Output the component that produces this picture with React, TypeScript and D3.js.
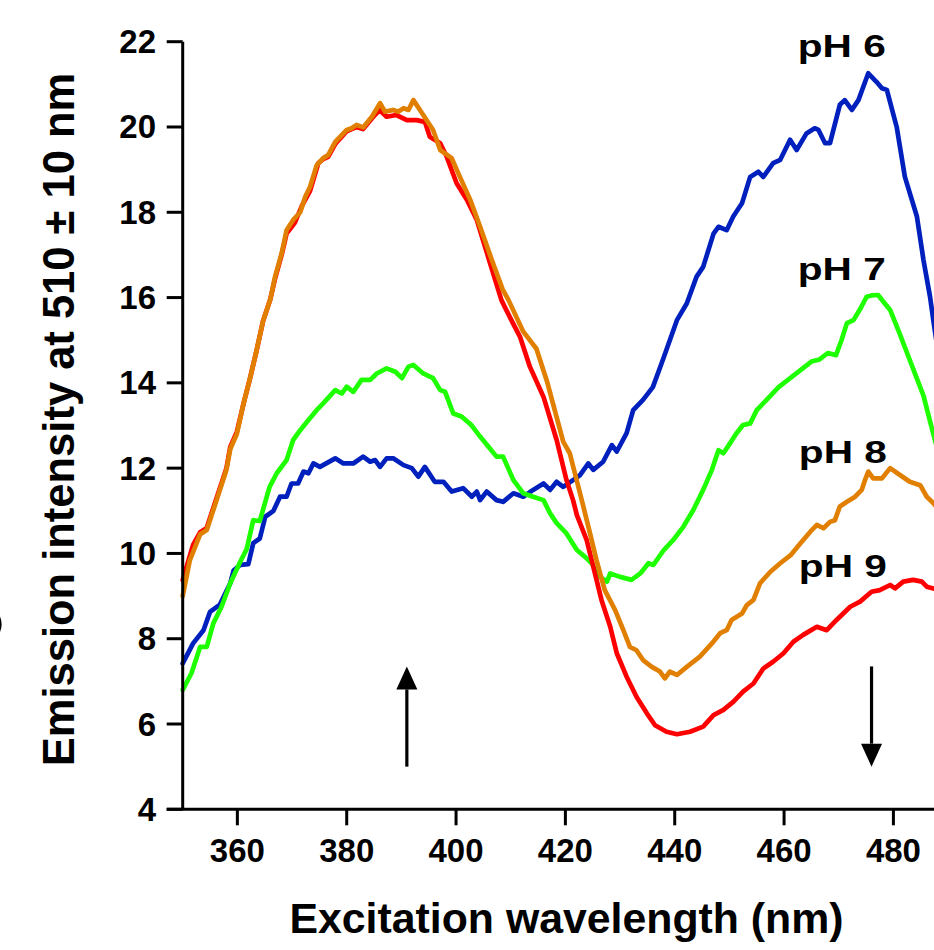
import React from "react";
import * as d3 from "d3";

// ---- data ----
const xTicks = [360, 380, 400, 420, 440, 460, 480];
const yTicks = [4, 6, 8, 10, 12, 14, 16, 18, 20, 22];
const seriesLabels = ["pH 6", "pH 7", "pH 8", "pH 9"];

const ph6: [number, number][] = [
  [350, 7.42], [351.9, 7.89], [353.8, 8.2], [355.0, 8.63], [356.8, 8.8], [358.7, 9.3], [359.3, 9.6],
  [360.5, 9.73], [362.0, 9.75], [362.9, 10.24], [364.1, 10.35], [365.1, 10.86], [366.6, 11.0],
  [367.8, 11.33], [369.0, 11.33], [369.9, 11.64], [371.1, 11.64], [372.1, 11.92], [373.0, 11.88],
  [373.9, 12.11], [375.1, 12.03], [377.9, 12.23], [379.4, 12.11], [381.2, 12.11], [383.0, 12.27],
  [384.3, 12.15], [385.2, 12.19], [386.1, 12.03], [387.3, 12.23], [388.5, 12.23], [390.4, 12.07],
  [391.9, 12.0], [393.1, 11.8], [394.3, 12.03], [396.1, 11.68], [397.7, 11.68], [399.2, 11.45],
  [401.3, 11.53], [402.9, 11.33], [403.8, 11.45], [404.4, 11.25], [405.6, 11.45], [407.4, 11.25],
  [408.6, 11.21], [410.5, 11.41], [412.3, 11.33], [414.1, 11.49], [416.0, 11.64], [417.2, 11.49],
  [418.4, 11.68], [419.6, 11.56], [421.4, 11.72], [422.7, 11.84], [424.2, 12.11], [425.1, 11.96],
  [426.9, 12.15], [428.5, 12.54], [429.4, 12.39], [431.2, 12.82], [432.4, 13.36], [434.2, 13.6],
  [436.0, 13.9], [438.0, 14.6], [440.4, 15.47], [442.2, 15.86], [444.0, 16.49], [445.2, 16.72],
  [447.1, 17.5], [448.0, 17.66], [449.5, 17.58], [450.7, 17.9], [452.3, 18.21], [453.8, 18.83],
  [455.3, 18.95], [456.2, 18.83], [458.0, 19.15], [459.3, 19.23], [461.1, 19.7], [462.3, 19.46],
  [464.1, 19.85], [465.6, 19.97], [466.3, 19.93], [467.5, 19.62], [468.4, 19.62], [470.2, 20.52],
  [471.1, 20.63], [472.4, 20.4], [473.6, 20.63], [475.4, 21.26], [476.9, 21.06], [477.9, 20.91],
  [478.8, 20.87], [480.6, 20.0], [482.1, 18.83], [484.3, 17.9], [485.5, 16.88], [486.7, 16.02],
  [487.3, 15.47], [489.0, 14.0],
];

const ph7: [number, number][] = [
  [350, 6.8], [351.6, 7.19], [353.2, 7.81], [354.4, 7.81], [355.6, 8.36], [357.1, 8.75], [358.7, 9.3],
  [360.5, 9.8], [361.7, 10.1], [362.9, 10.78], [364.1, 10.76], [365.9, 11.56], [367.2, 11.88],
  [369.0, 12.19], [370.2, 12.66], [371.5, 12.89], [373.0, 13.13], [374.5, 13.36], [375.7, 13.52],
  [377.9, 13.83], [379.1, 13.75], [380.0, 13.91], [381.2, 13.79], [382.7, 14.07], [384.3, 14.07],
  [385.5, 14.22], [387.3, 14.34], [388.9, 14.26], [390.1, 14.11], [391.3, 14.38], [392.2, 14.42],
  [394.0, 14.22], [395.8, 14.11], [397.1, 13.83], [398.0, 13.79], [399.5, 13.28], [401.0, 13.21],
  [402.8, 13.01], [404.4, 12.74], [406.2, 12.46], [407.4, 12.27], [408.6, 12.27], [410.5, 11.72],
  [412.3, 11.41], [414.1, 11.33], [416.0, 11.25], [417.2, 10.94], [418.4, 10.71], [420.2, 10.47],
  [422.1, 10.08], [423.6, 9.92], [424.8, 9.77], [426.3, 9.45], [427.6, 9.34], [428.2, 9.53],
  [430.0, 9.45], [432.1, 9.38], [433.7, 9.53], [435.2, 9.77], [436.1, 9.73], [438.0, 10.08],
  [439.7, 10.31], [441.6, 10.63], [443.4, 11.02], [445.2, 11.49], [446.8, 11.96], [448.0, 12.42],
  [448.9, 12.35], [450.1, 12.58], [451.3, 12.82], [452.5, 13.01], [453.8, 13.05], [455.0, 13.36],
  [456.8, 13.6], [459.0, 13.9], [461.0, 14.1], [463.0, 14.3], [465.0, 14.5], [466.5, 14.55],
  [468.0, 14.7], [469.5, 14.65], [470.5, 15.0], [471.5, 15.4], [472.7, 15.47], [474.0, 15.75],
  [475.1, 16.02], [476.0, 16.05], [477.2, 16.06], [478.5, 15.85], [479.4, 15.71], [481.0, 15.2],
  [482.5, 14.7], [484.0, 14.2], [485.5, 13.7], [487.3, 12.8], [489.0, 12.0],
];

const ph8: [number, number][] = [
  [350, 9.0], [351.3, 9.84], [353.2, 10.45], [354.4, 10.55], [356.2, 11.25], [358.0, 11.96],
  [358.7, 12.45], [359.9, 12.8], [361.1, 13.5], [362.3, 14.1], [363.5, 14.75], [364.7, 15.45],
  [366.0, 15.95], [366.9, 16.49], [368.1, 17.04], [369.0, 17.58], [370.2, 17.82], [371.5, 18.0],
  [372.4, 18.36], [373.3, 18.6], [374.5, 19.1], [375.7, 19.27], [376.6, 19.34], [377.9, 19.65],
  [380.0, 19.93], [380.9, 19.97], [381.8, 20.05], [383.0, 19.99], [384.6, 20.24], [386.1, 20.56],
  [387.0, 20.36], [388.5, 20.4], [389.4, 20.36], [390.4, 20.44], [391.3, 20.4], [392.2, 20.63],
  [394.0, 20.28], [395.8, 19.93], [397.1, 19.46], [399.2, 19.27], [400.7, 18.83], [402.6, 18.29],
  [404.4, 17.66], [406.5, 16.9], [408.5, 16.2], [409.6, 15.94], [412.3, 15.2], [414.7, 14.8],
  [416.6, 14.05], [419.6, 12.62], [420.8, 12.35], [422.7, 11.4], [424.2, 10.63], [425.7, 9.84],
  [427.2, 9.14], [429.1, 8.67], [430.6, 8.2], [431.8, 7.81], [433.0, 7.73], [434.2, 7.5],
  [435.8, 7.34], [437.3, 7.23], [438.2, 7.07], [439.1, 7.23], [440.4, 7.15], [442.2, 7.34],
  [444.6, 7.58], [446.8, 7.89], [448.3, 8.13], [449.5, 8.2], [450.4, 8.44], [452.3, 8.59],
  [453.2, 8.79], [454.4, 8.91], [455.6, 9.3], [457.5, 9.57], [459.3, 9.77], [461.2, 9.96],
  [463.0, 10.24], [464.8, 10.51], [466.0, 10.67], [467.2, 10.59], [468.4, 10.74], [469.3, 10.78],
  [470.2, 11.1], [471.5, 11.21], [473.0, 11.33], [474.2, 11.49], [474.8, 11.72], [475.4, 11.92],
  [476.3, 11.76], [477.9, 11.76], [479.4, 12.0], [481.2, 11.84], [483.0, 11.68], [484.9, 11.6],
  [486.1, 11.33], [487.3, 11.18], [489.0, 10.9],
];

const ph9: [number, number][] = [
  [350, 9.38], [351.9, 10.2], [353.2, 10.5], [354.4, 10.6], [356.2, 11.3], [358.0, 12.0],
  [358.7, 12.5], [359.9, 12.85], [361.1, 13.5], [362.3, 14.1], [363.5, 14.75], [364.7, 15.45],
  [366.0, 15.95], [366.9, 16.45], [368.1, 17.0], [369.0, 17.5], [370.5, 17.75], [371.8, 18.15],
  [373.3, 18.5], [374.8, 19.15], [375.7, 19.25], [376.6, 19.3], [377.9, 19.6], [380.0, 19.9],
  [380.9, 19.95], [381.8, 20.0], [383.0, 19.95], [384.6, 20.2], [386.0, 20.4], [387.3, 20.24],
  [389.1, 20.28], [391.0, 20.16], [392.8, 20.16], [394.3, 20.12], [395.2, 19.77], [397.1, 19.62],
  [398.3, 19.3], [400.1, 18.68], [402.0, 18.29], [403.8, 17.82], [406.0, 16.9], [408.3, 15.94],
  [410.0, 15.5], [411.7, 15.08], [413.5, 14.38], [416.0, 13.67], [418.4, 12.66], [420.2, 11.72],
  [421.4, 11.25], [422.1, 10.9], [423.9, 10.31], [425.7, 9.38], [426.6, 8.91], [428.2, 8.28],
  [429.4, 7.66], [431.2, 7.11], [433.0, 6.64], [434.9, 6.25], [436.4, 5.97], [438.5, 5.82],
  [440.4, 5.76], [442.8, 5.82], [445.2, 5.94], [447.1, 6.21], [448.9, 6.33], [450.7, 6.52],
  [452.5, 6.76], [454.4, 6.95], [456.2, 7.3], [458.0, 7.46], [459.9, 7.66], [461.7, 7.93],
  [463.5, 8.09], [466.0, 8.28], [467.8, 8.2], [469.6, 8.44], [472.1, 8.75], [473.9, 8.87],
  [476.0, 9.1], [477.5, 9.14], [479.4, 9.26], [480.3, 9.18], [481.8, 9.34], [483.6, 9.38],
  [485.2, 9.34], [486.1, 9.22], [487.3, 9.18], [489.0, 9.1],
];

// arrows: [wavelength, from value, to value]
const arrowUp: [number, number, number] = [391, 5.0, 7.35];
const arrowDown: [number, number, number] = [476, 7.35, 5.0];

// ---- layout / style ----
const W = 934;
const H = 950;
const FONT = "'Liberation Sans', Arial, Helvetica, sans-serif";
const colors = ["#0020BE", "#1EFF00", "#E07F00", "#FF0000"];
const drawOrder = [0, 1, 3, 2];
const labelPos: [number, number][] = [
  [462.5, 21.65],
  [462.5, 16.41],
  [462.7, 12.12],
  [462.7, 9.45],
];

export default function App() {
  const x = d3.scaleLinear().domain([350, 490]).range([182.7, 182.7 + 140 * 5.467]);
  const y = d3.scaleLinear().domain([4, 22]).range([809.3, 41.7]);
  const line = d3
    .line<[number, number]>()
    .x((d) => x(d[0]))
    .y((d) => y(d[1]))
    .curve(d3.curveLinear);
  const all = [ph6, ph7, ph8, ph9];
  const x0 = x(350);
  const y0 = y(4);

  const arrow = (a: [number, number, number], key: string) => {
    const ax = x(a[0]);
    const ya = y(a[1]);
    const yb = y(a[2]);
    const dir = yb < ya ? -1 : 1; // -1: pointing up
    const headLen = 23;
    const headHalf = 10.5;
    const baseY = yb - dir * headLen;
    return (
      <g key={key}>
        <line x1={ax} y1={ya} x2={ax} y2={baseY} stroke="#000" strokeWidth={3.2} />
        <path
          d={`M${ax},${yb} L${ax - headHalf},${baseY} L${ax + headHalf},${baseY} Z`}
          fill="#000"
        />
      </g>
    );
  };

  return (
    <svg
      width={W}
      height={H}
      viewBox={`0 0 ${W} ${H}`}
      style={{ position: "absolute", left: 0, top: 0, background: "#fff" }}
      fontFamily={FONT}
    >
      <rect x={0} y={0} width={W} height={H} fill="#fff" />
      {/* edge of a neighbouring panel's mark, cut by the left border */}
      <path d="M -6,610 Q 6,624 -6,639" fill="none" stroke="#000" strokeWidth={3.2} />

      {/* data lines */}
      {drawOrder.map((i) => (
        <path
          key={seriesLabels[i]}
          d={line(all[i]) || ""}
          fill="none"
          stroke={colors[i]}
          strokeWidth={4.7}
          strokeLinejoin="round"
          strokeLinecap="round"
        />
      ))}

      {/* axes */}
      <line x1={x0} y1={y(22)} x2={x0} y2={y0} stroke="#000" strokeWidth={3} />
      <line x1={x0 - 16} y1={y0} x2={W + 5} y2={y0} stroke="#000" strokeWidth={3} />
      {yTicks.map((t) => (
        <g key={"y" + t}>
          <line x1={x0 - 16} x2={x0} y1={y(t)} y2={y(t)} stroke="#000" strokeWidth={3} />
          <text
            x={156}
            y={y(t) + 11.5}
            textAnchor="end"
            fontSize={33}
            fontWeight="bold"
            fill="#000"
          >
            {t}
          </text>
        </g>
      ))}
      {xTicks.map((t) => (
        <g key={"x" + t}>
          <line x1={x(t)} x2={x(t)} y1={y0} y2={y0 + 16} stroke="#000" strokeWidth={3} />
          <text
            x={x(t)}
            y={862}
            textAnchor="middle"
            fontSize={33}
            fontWeight="bold"
            fill="#000"
          >
            {t}
          </text>
        </g>
      ))}

      {/* axis titles */}
      <text
        x={566.5}
        y={933}
        textAnchor="middle"
        fontSize={42.8}
        fontWeight="bold"
        fill="#000"
      >
        Excitation wavelength (nm)
      </text>
      <text
        transform={`translate(74,419.5) rotate(-90)`}
        textAnchor="middle"
        fontSize={43.5}
        fontWeight="bold"
        fill="#000"
      >
        Emission intensity at 510 ± 10 nm
      </text>

      {/* series labels */}
      {seriesLabels.map((s, i) => (
        <text
          key={"lab" + s}
          transform={`translate(${x(labelPos[i][0])},${y(labelPos[i][1])}) scale(1.27,1)`}
          fontSize={32}
          fontWeight="bold"
          fill="#000"
        >
          {s}
        </text>
      ))}

      {/* arrows */}
      {arrow(arrowUp, "up")}
      {arrow(arrowDown, "down")}
    </svg>
  );
}
